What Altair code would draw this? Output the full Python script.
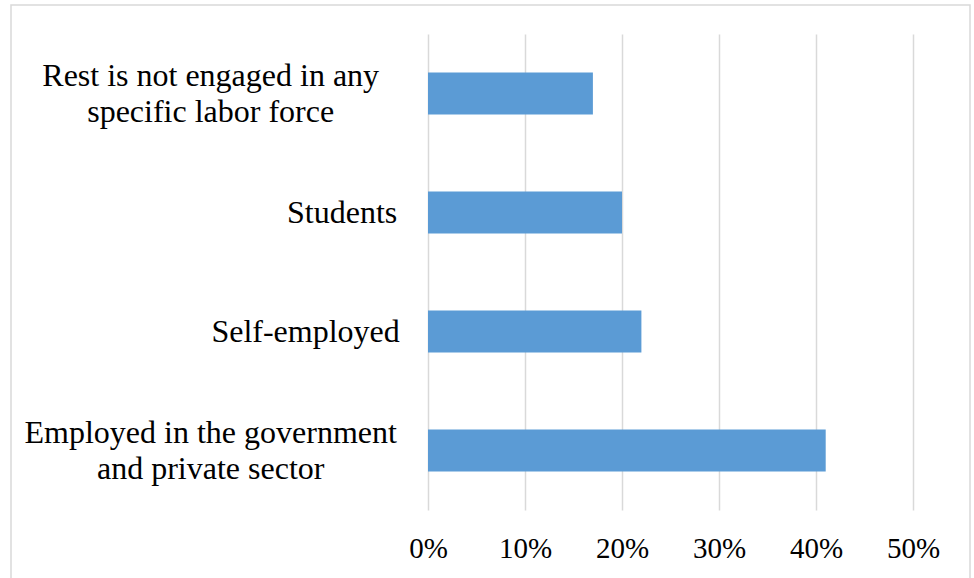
import altair as alt
import pandas as pd

categories = [
    "Rest is not engaged in any\nspecific labor force",
    "Students",
    "Self-employed",
    "Employed in the government\nand private sector",
]
shares = [0.17, 0.20, 0.22, 0.41]
tick_values = [0, 0.1, 0.2, 0.3, 0.4, 0.5]

df = pd.DataFrame({"category": categories, "share": shares})

FONT = "Liberation Serif"

pad_expr = (
    "28 + 7.3*max(length(split(datum.value, '\\n')[0]), "
    "length(peek(split(datum.value, '\\n'))))"
)
offset_expr = "-18*(length(split(datum.value, '\\n')) - 1)"

bars = alt.Chart(df).mark_bar(color="#5B9BD5").encode(
    x=alt.X(
        "share:Q",
        scale=alt.Scale(domain=[0, 0.5], nice=False),
        axis=alt.Axis(
            title=None,
            format=".0%",
            values=tick_values,
            domain=False,
            ticks=False,
            grid=True,
            gridColor="#D9D9D9",
            gridWidth=1.5,
            labelFont=FONT,
            labelFontSize=29,
            labelColor="black",
            labelPadding=24,
            labelFlush=False,
        ),
    ),
    y=alt.Y(
        "category:N",
        sort=categories,
        scale=alt.Scale(paddingInner=0.647, paddingOuter=0.3235),
        axis=alt.Axis(
            title=None,
            domain=False,
            ticks=False,
            labelFont=FONT,
            labelFontSize=32,
            labelColor="black",
            labelAlign="center",
            labelBaseline="middle",
            labelLineHeight=36,
            labelLimit=0,
            labelExpr="split(datum.label, '\\n')",
            labelPadding={"expr": pad_expr},
            labelOffset={"expr": offset_expr},
        ),
    ),
)

border = alt.Chart(alt.Data(values=[{"a": 1}])).mark_rect(
    fill="transparent", stroke="#D9D9D9", strokeWidth=1.5
).encode(
    x=alt.value(-417),
    x2=alt.value(542),
    y=alt.value(-29),
    y2=alt.value(620),
)

chart = alt.layer(border, bars).properties(
    width=485,
    height=476,
    padding={"left": 428, "top": 34, "right": 61, "bottom": 68},
    autosize=alt.AutoSizeParams(type="none"),
    background="white",
).configure_view(stroke=None)

chart.save("out.html", embed_options={"renderer": "svg", "actions": False})
